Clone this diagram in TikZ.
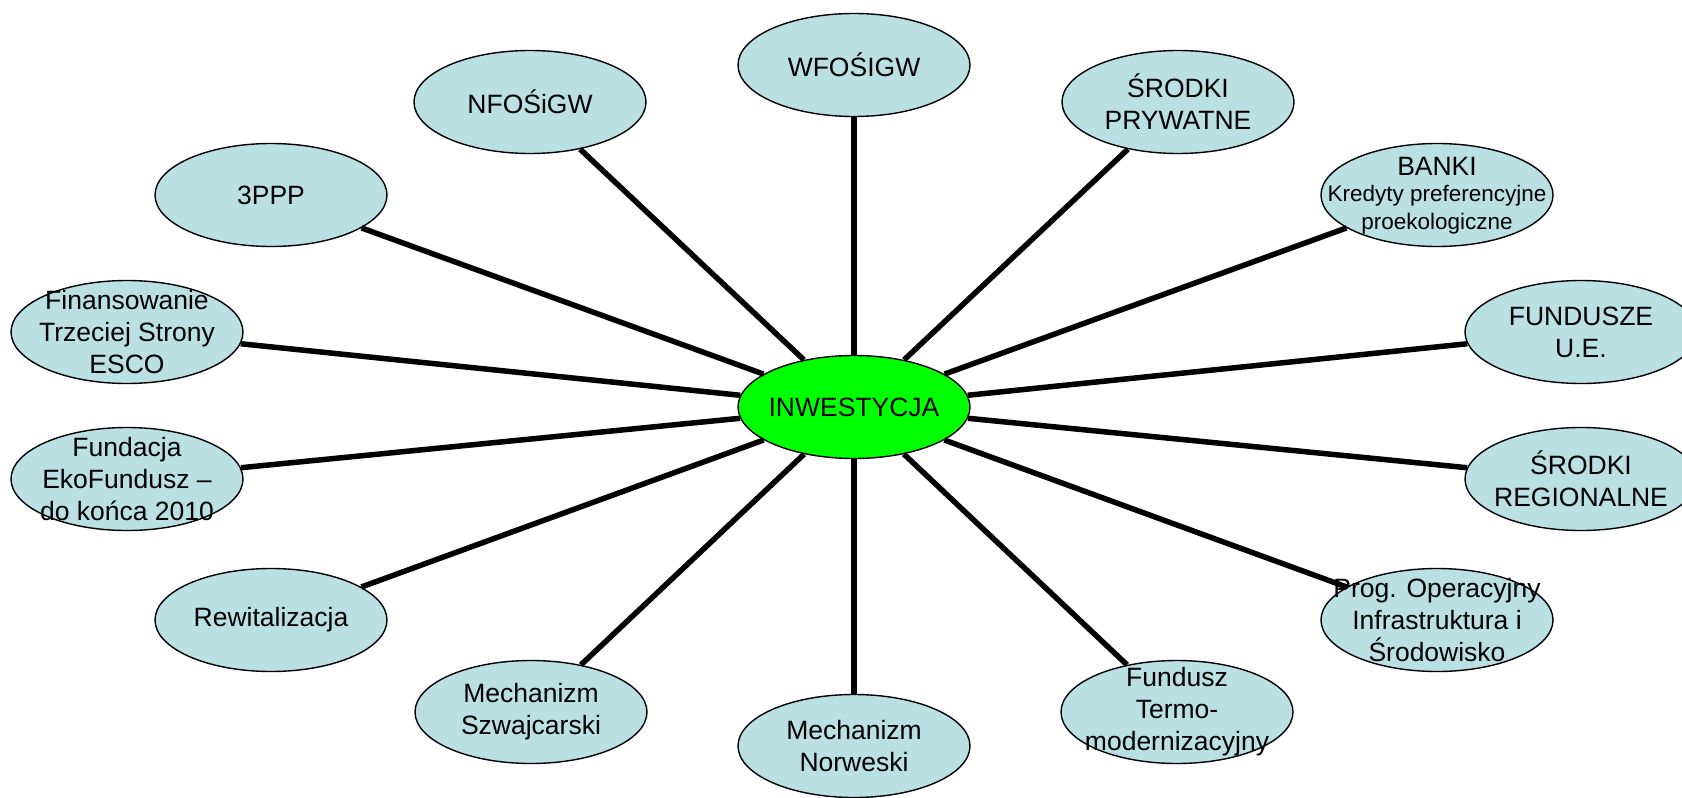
\documentclass[tikz,border=0pt]{standalone}
\usepackage{fontspec}
\setmainfont{Liberation Sans}
\usetikzlibrary{shapes.geometric}
\definecolor{ellblue}{RGB}{187,224,227}
\definecolor{ellgreen}{RGB}{0,255,0}
\begin{document}
\begin{tikzpicture}[x=1pt,y=-1pt,
  ell/.style={ellipse, draw=black, line width=1.4pt, fill=ellblue,
    minimum width=232pt, minimum height=103pt, inner sep=0pt},
  hub/.style={ell, fill=ellgreen},
  lbl/.style={align=center, font=\fontsize{26.5}{32}\selectfont, inner sep=0pt},
  lblsmall/.style={align=center, font=\fontsize{22.5}{28}\selectfont, inner sep=0pt},
  link/.style={line width=5.5pt}]
\useasboundingbox (0,0) rectangle (1682,798);
\clip (0,0) rectangle (1682,798);
\fill[white] (0,0) rectangle (1682,798);

% ellipses
\node[hub] (hub)  at (854,407) {};
\node[ell] (wfos) at (854,65) {};
\node[ell] (nfos) at (530,102) {};
\node[ell] (srp)  at (1178,102) {};
\node[ell] (ppp)  at (271,195) {};
\node[ell] (banki) at (1437,195) {};
\node[ell] (fin)  at (127,332) {};
\node[ell] (fue)  at (1581,332) {};
\node[ell] (fund) at (127,479) {};
\node[ell] (sreg) at (1581,479) {};
\node[ell] (rew)  at (271,620) {};
\node[ell] (prog) at (1437,620) {};
\node[ell] (szw)  at (531,712) {};
\node[ell] (term) at (1177,712) {};
\node[ell] (nor)  at (854,746) {};

% connectors
\foreach \n in {wfos,nfos,srp,ppp,banki,fin,fue,fund,sreg,rew,prog,szw,term,nor}
  \draw[link] (hub) -- (\n);

% labels
\node[lbl] (thub)  at (hub)  {INWESTYCJA};
\node[lbl] (twfos) at (wfos) {WFOŚIGW};
\node[lbl] (tnfos) at (nfos) {NFOŚiGW};
\node[lbl] (tsrp)  at (srp)  {ŚRODKI\\PRYWATNE};
\node[lbl] (tppp)  at (ppp)  {3PPP};
\node[lbl] (tbanki) at (1437,166) {BANKI};
\node[lblsmall] (tbanki2) at (1437,210) {Kredyty preferencyjne\\proekologiczne};
\node[lbl] (tfin)  at (fin)  {Finansowanie\\Trzeciej Strony\\ESCO};
\node[lbl] (tfue)  at (fue)  {FUNDUSZE\\U.E.};
\node[lbl] (tfund) at (fund) {Fundacja\\EkoFundusz –\\do końca 2010};
\node[lbl] (tsreg) at (sreg) {ŚRODKI\\REGIONALNE};
\node[lbl] (trew)  at (rew)  {Rewitalizacja};
\node[lbl] (tprog) at (prog) {Prog. Operacyjny\\Infrastruktura i\\Środowisko};
\node[lbl] (tszw)  at (szw)  {Mechanizm\\Szwajcarski};
\node[lbl] (tterm) at (term) {Fundusz\\Termo-\\modernizacyjny};
\node[lbl] (tnor)  at (nor)  {Mechanizm\\Norweski};
\end{tikzpicture}
\end{document}
